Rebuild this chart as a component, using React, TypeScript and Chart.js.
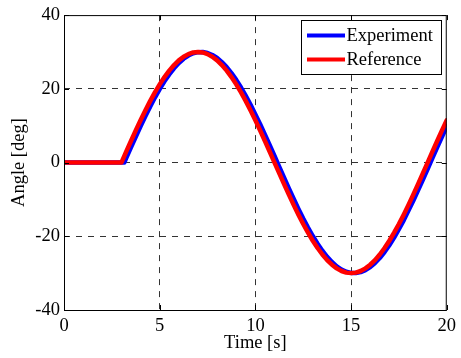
import { useEffect, useRef } from 'react';
import { Chart, registerables } from 'chart.js';

Chart.register(...registerables);

const seriesNames = ['Experiment', 'Reference'];
const xTickValues = [0, 5, 10, 15, 20];
const yTickValues = [-40, -20, 0, 20, 40];

const expTime = [0, 3.15, 3.25, 3.5, 3.75, 4, 4.25, 4.5, 4.75, 5, 5.25, 5.5, 5.75, 6, 6.25, 6.5, 6.75, 7, 7.25, 7.5, 7.75, 8, 8.25, 8.5, 8.75, 9, 9.25, 9.5, 9.75, 10, 10.25, 10.5, 10.75, 11, 11.25, 11.5, 11.75, 12, 12.25, 12.5, 12.75, 13, 13.25, 13.5, 13.75, 14, 14.25, 14.5, 14.75, 15, 15.25, 15.5, 15.75, 16, 16.25, 16.5, 16.75, 17, 17.25, 17.5, 17.75, 18, 18.25, 18.5, 18.75, 19, 19.25, 19.5, 19.75, 20];
const expAngle = [0, 0, 1.18, 4.11, 7.0, 9.83, 12.56, 15.17, 17.63, 19.93, 22.03, 23.92, 25.58, 26.99, 28.16, 29.03, 29.63, 29.94, 29.98, 29.72, 29.17, 28.37, 27.24, 25.9, 24.27, 22.42, 20.36, 18.08, 15.68, 13.03, 10.38, 7.55, 4.69, 1.77, -1.18, -4.11, -7.0, -9.83, -12.56, -15.17, -17.63, -19.93, -22.03, -23.92, -25.58, -26.99, -28.16, -29.03, -29.63, -29.94, -29.98, -29.72, -29.17, -28.37, -27.24, -25.9, -24.27, -22.42, -20.36, -18.08, -15.68, -13.03, -10.38, -7.55, -4.69, -1.77, 1.18, 4.11, 7.0, 9.83];

const refTime = [0, 3, 3.25, 3.5, 3.75, 4, 4.25, 4.5, 4.75, 5, 5.25, 5.5, 5.75, 6, 6.25, 6.5, 6.75, 7, 7.25, 7.5, 7.75, 8, 8.25, 8.5, 8.75, 9, 9.25, 9.5, 9.75, 10, 10.25, 10.5, 10.75, 11, 11.25, 11.5, 11.75, 12, 12.25, 12.5, 12.75, 13, 13.25, 13.5, 13.75, 14, 14.25, 14.5, 14.75, 15, 15.25, 15.5, 15.75, 16, 16.25, 16.5, 16.75, 17, 17.25, 17.5, 17.75, 18, 18.25, 18.5, 18.75, 19, 19.25, 19.5, 19.75, 20];
const refAngle = [0, 0, 2.94, 5.85, 8.71, 11.48, 14.14, 16.67, 19.03, 21.21, 23.19, 24.94, 26.46, 27.72, 28.71, 29.42, 29.86, 30, 29.86, 29.42, 28.71, 27.72, 26.46, 24.94, 23.19, 21.21, 19.03, 16.67, 14.14, 11.48, 8.71, 5.85, 2.94, 0, -2.94, -5.85, -8.71, -11.48, -14.14, -16.67, -19.03, -21.21, -23.19, -24.94, -26.46, -27.72, -28.71, -29.42, -29.86, -30, -29.86, -29.42, -28.71, -27.72, -26.46, -24.94, -23.19, -21.21, -19.03, -16.67, -14.14, -11.48, -8.71, -5.85, -2.94, 0, 2.94, 5.85, 8.71, 11.48];

const FONT_FAMILY = "'Liberation Serif', 'Times New Roman', serif";
const FONT_SIZE = 18.5;

const framePlugin = {
  id: 'matlabFrame',
  afterDatasetsDraw(chart: any) {
    const ctx = chart.ctx;
    const { left, right, top, bottom } = chart.chartArea;
    ctx.save();
    ctx.setLineDash([]);
    ctx.strokeStyle = '#000';
    ctx.lineWidth = 1;
    const tl = 5;
    const xs = chart.scales.x;
    const ys = chart.scales.y;
    ctx.beginPath();
    xs.ticks.forEach((t: any) => {
      const p = Math.round(xs.getPixelForValue(t.value)) + 0.5;
      ctx.moveTo(p, bottom);
      ctx.lineTo(p, bottom - tl);
      ctx.moveTo(p, top);
      ctx.lineTo(p, top + tl);
    });
    ys.ticks.forEach((t: any) => {
      const p = Math.round(ys.getPixelForValue(t.value)) + 0.5;
      ctx.moveTo(left, p);
      ctx.lineTo(left + tl, p);
      ctx.moveTo(right, p);
      ctx.lineTo(right - tl, p);
    });
    ctx.stroke();
    ctx.beginPath();
    ctx.rect(left + 0.5, top + 0.5, right - left - 1, bottom - top);
    ctx.stroke();

    // legend
    const bw = 140;
    const bh = 54;
    const bx = Math.round(right - 6 - bw) + 0.5;
    const by = Math.round(top + 5) + 0.5;
    ctx.fillStyle = '#fff';
    ctx.fillRect(bx, by, bw, bh);
    ctx.strokeRect(bx, by, bw, bh);
    ctx.font = `${FONT_SIZE}px ${FONT_FAMILY}`;
    ctx.textBaseline = 'middle';
    ctx.textAlign = 'left';
    chart.data.datasets.forEach((ds: any, i: number) => {
      const y = by + 15 + i * 24;
      ctx.strokeStyle = ds.borderColor;
      ctx.lineWidth = 4;
      ctx.beginPath();
      ctx.moveTo(bx + 5.5, y);
      ctx.lineTo(bx + 43.5, y);
      ctx.stroke();
      ctx.fillStyle = '#000';
      ctx.fillText(ds.label, bx + 45, y + 1);
    });
    ctx.restore();
  },
};

export default function App() {
  const canvasRef = useRef<HTMLCanvasElement | null>(null);

  useEffect(() => {
    document.body.style.margin = '0';
    const canvas = canvasRef.current;
    if (!canvas) return;
    const font = { family: FONT_FAMILY, size: FONT_SIZE };
    const chart = new Chart(canvas, {
      type: 'line',
      data: {
        datasets: [
          {
            label: seriesNames[0],
            data: expTime.map((x, i) => ({ x, y: expAngle[i] })),
            borderColor: '#0000ff',
            borderWidth: 4.5,
            pointRadius: 0,
            tension: 0,
            order: 1,
            borderJoinStyle: 'round',
            borderCapStyle: 'round',
          },
          {
            label: seriesNames[1],
            data: refTime.map((x, i) => ({ x, y: refAngle[i] })),
            borderColor: '#ff0000',
            borderWidth: 4.5,
            pointRadius: 0,
            tension: 0,
            order: 0,
            borderJoinStyle: 'round',
            borderCapStyle: 'round',
          },
        ],
      },
      options: {
        responsive: false,
        animation: false,
        devicePixelRatio: 1,
        layout: { padding: { top: 14, right: 9, left: 0, bottom: 0 } },
        plugins: {
          legend: { display: false },
          tooltip: { enabled: false },
        },
        scales: {
          x: {
            type: 'linear',
            min: 0,
            max: 20,
            afterBuildTicks: (scale: any) => {
              scale.ticks = xTickValues.map((v) => ({ value: v }));
            },
            afterFit: (scale: any) => {
              scale.height = 48;
            },
            ticks: { font, color: '#000', padding: 5, maxRotation: 0, autoSkip: false },
            grid: {
              drawTicks: false,
              lineWidth: 1,
              color: (c: any) =>
                c.tick && (c.tick.value === 0 || c.tick.value === 20) ? 'rgba(0,0,0,0)' : '#333',
            },
            border: { display: false, dash: [6, 6] },
            title: { display: true, text: 'Time [s]', font, color: '#000', padding: { top: 0, bottom: 4 } },
          },
          y: {
            type: 'linear',
            min: -40,
            max: 40,
            afterBuildTicks: (scale: any) => {
              scale.ticks = yTickValues.map((v) => ({ value: v }));
            },
            afterFit: (scale: any) => {
              scale.width = 64;
            },
            ticks: { font, color: '#000', padding: 4, autoSkip: false },
            grid: {
              drawTicks: false,
              lineWidth: 1,
              color: (c: any) =>
                c.tick && (c.tick.value === -40 || c.tick.value === 40) ? 'rgba(0,0,0,0)' : '#333',
            },
            border: { display: false, dash: [6, 6] },
            title: { display: true, text: 'Angle [deg]', font, color: '#000', padding: { top: 8, bottom: 0 } },
          },
        },
      },
      plugins: [framePlugin],
    } as any);
    return () => chart.destroy();
  }, []);

  return (
    <div style={{ width: 461, height: 358 }}>
      <canvas ref={canvasRef} width={461} height={358} style={{ display: 'block' }} />
    </div>
  );
}
